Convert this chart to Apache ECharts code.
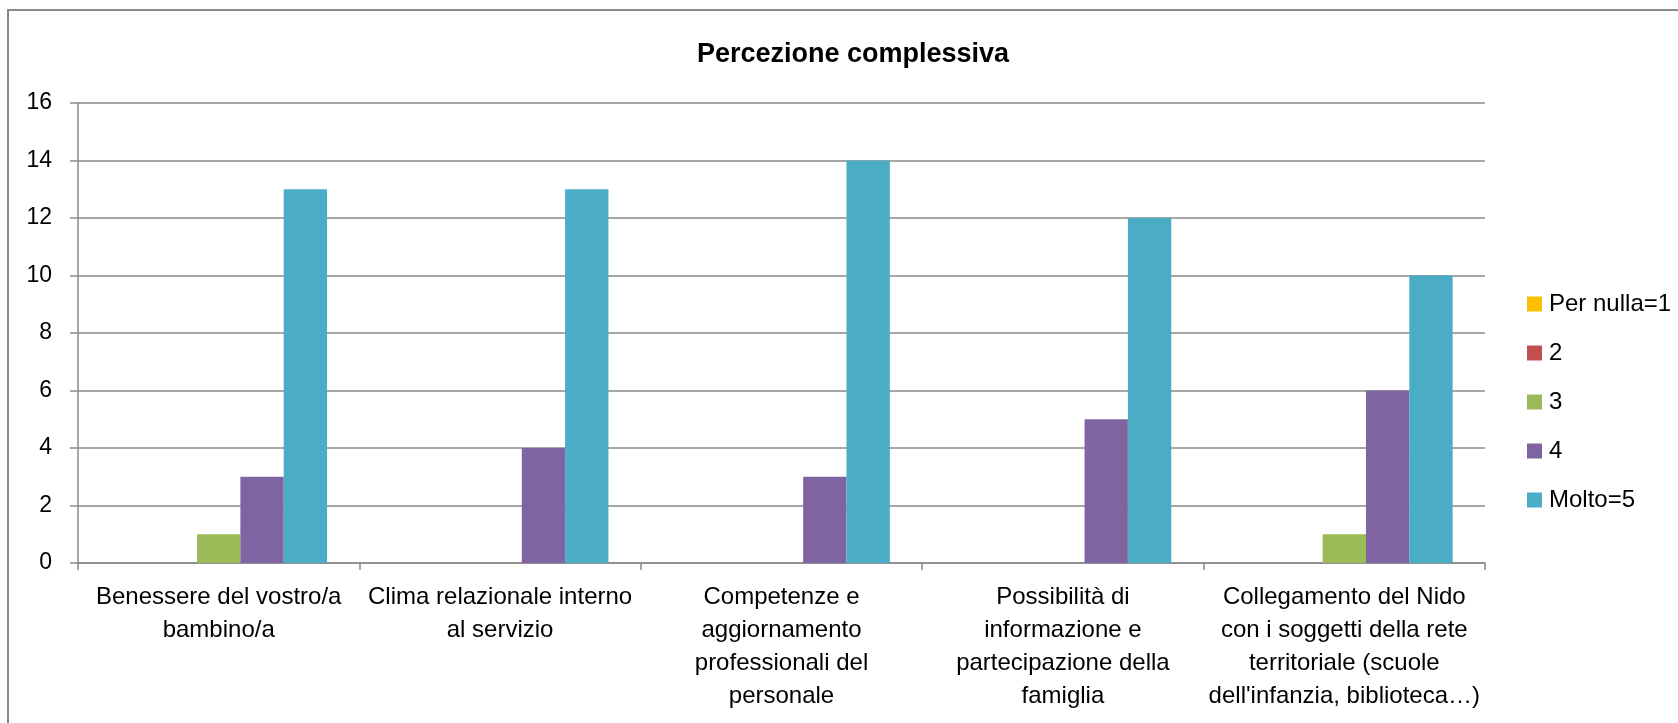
<!DOCTYPE html>
<html>
<head>
<meta charset="utf-8">
<script src="https://cdn.jsdelivr.net/npm/echarts@6/dist/echarts.min.js"></script>
<style>
  html, body { margin: 0; padding: 0; background: #fff; }
  #chart { width: 1678px; height: 723px; }
</style>
</head>
<body>
<div id="chart"></div>
<script>
// categorie (a capo come nel grafico originale)
var categories = [
  "Benessere del vostro/a\nbambino/a",
  "Clima relazionale interno\nal servizio",
  "Competenze e\naggiornamento\nprofessionali del\npersonale",
  "Possibilità di\ninformazione e\npartecipazione della\nfamiglia",
  "Collegamento del Nido\ncon i soggetti della rete\nterritoriale (scuole\ndell'infanzia, biblioteca…)"
];
var seriesNames = ["Per nulla=1", "2", "3", "4", "Molto=5"];
var val1 = [0, 0, 0, 0, 0];
var val2 = [0, 0, 0, 0, 0];
var val3 = [1, 0, 0, 0, 1];
var val4 = [3, 4, 3, 5, 6];
var val5 = [13, 13, 14, 12, 10];
var yTicks = [0, 2, 4, 6, 8, 10, 12, 14, 16];

var colors = ["#FFC000", "#C0504D", "#9BBB59", "#8064A2", "#4BACC6"];
var font = "'Liberation Sans', Arial, sans-serif";
var gridColor = "#8a8a8a";

var myChart = echarts.init(document.getElementById("chart"));

var allValues = [val1, val2, val3, val4, val5];
var series = seriesNames.map(function (name, i) {
  return {
    name: name,
    type: "bar",
    data: allValues[i],
    barGap: 0,
    barCategoryGap: "23%",
    itemStyle: { color: colors[i] }
  };
});

var option = {
  animation: false,
  color: colors,
  textStyle: { fontFamily: font },
  title: {
    text: "Percezione complessiva",
    left: 853,
    top: 41,
    padding: 0,
    textAlign: "center",
    textStyle: { fontFamily: font, fontSize: 27, fontWeight: "bold", color: "#000" }
  },
  legend: {
    orient: "vertical",
    left: 1527,
    top: 292,
    padding: 0,
    icon: "rect",
    itemWidth: 15,
    itemHeight: 15,
    itemGap: 25,
    textStyle: { fontFamily: font, fontSize: 24, color: "#000", padding: [0, 0, 0, 2] },
    data: seriesNames
  },
  grid: {
    left: 78,
    right: 193,
    top: 103,
    bottom: 160,
    containLabel: false
  },
  xAxis: {
    type: "category",
    data: categories,
    boundaryGap: true,
    axisLine: { show: true, lineStyle: { color: gridColor, width: 1.5 } },
    axisTick: { show: true, length: 7, lineStyle: { color: gridColor, width: 1.5 } },
    axisLabel: {
      interval: 0,
      margin: 18,
      fontFamily: font,
      fontSize: 24,
      lineHeight: 33,
      color: "#000",
      align: "center"
    }
  },
  yAxis: {
    type: "value",
    min: yTicks[0],
    max: yTicks[yTicks.length - 1],
    interval: 2,
    axisLine: { show: true, lineStyle: { color: gridColor, width: 1.5 } },
    axisTick: { show: true, length: 8, lineStyle: { color: gridColor, width: 1.5 } },
    axisLabel: { margin: 26, fontFamily: font, fontSize: 23, color: "#000" },
    splitLine: { show: true, lineStyle: { color: gridColor, width: 1.5 } }
  },
  graphic: [
    {
      type: "rect",
      shape: { x: 8, y: 10, width: 2000, height: 2000 },
      style: { fill: null, stroke: "#8a8a8a", lineWidth: 2 },
      z: -1
    }
  ],
  series: series
};

myChart.setOption(option);
</script>
</body>
</html>
